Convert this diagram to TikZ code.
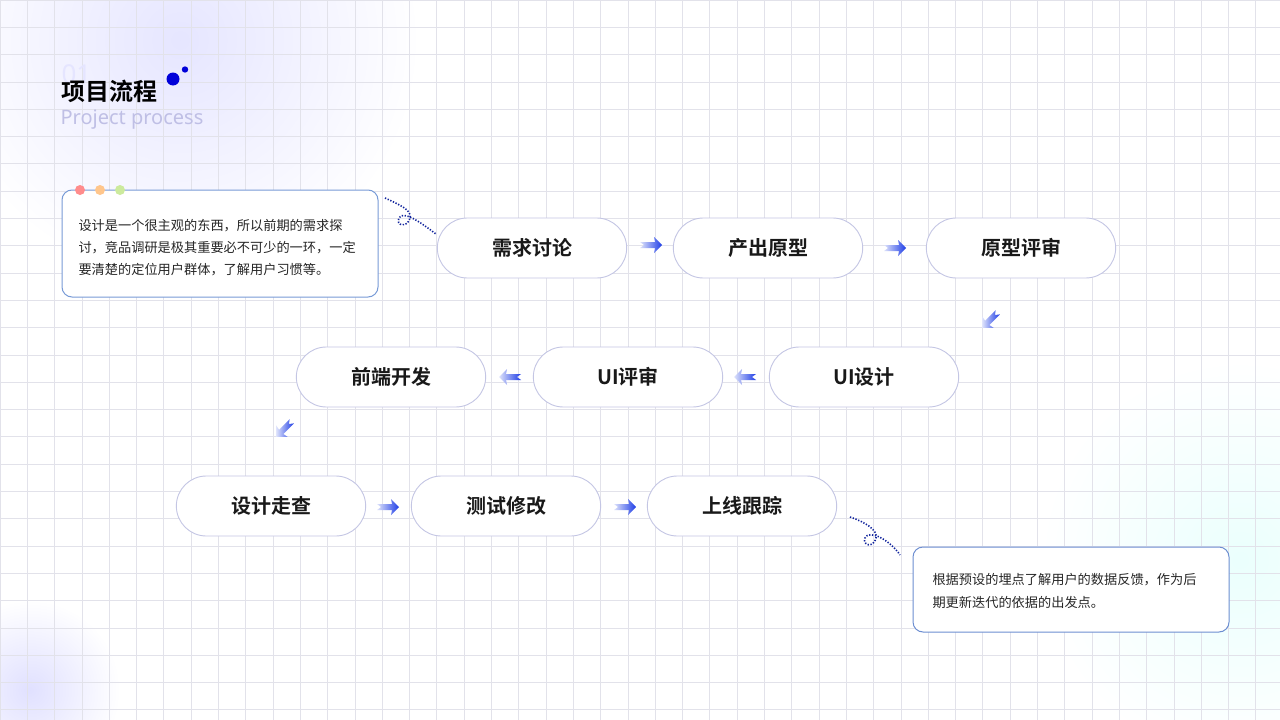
\documentclass[tikz,border=0pt]{standalone}
\usepackage{fontspec}
\setmainfont{Noto Sans CJK SC}
\newfontfamily\cjkb{Noto Sans CJK SC Bold}
\newfontfamily\cjkm{Noto Sans CJK SC Bold}
\newfontfamily\lat{Noto Sans}
\usetikzlibrary{shapes.misc,shadings,fadings,calc}
\definecolor{gridc}{HTML}{E2E2EA}
\definecolor{pillb}{HTML}{C4C6E4}
\definecolor{arrb}{HTML}{1F3EE6}
\definecolor{dotb}{HTML}{10239C}
\tikzset{
 x=1pt,y=-1pt,
 pill/.style={rounded rectangle, draw=pillb, line width=0.9pt, fill=white, minimum width=196pt, minimum height=60pt, font=\cjkm\fontsize{20}{20}\selectfont, text=black!90},
 note/.style={rounded corners=10pt, draw=#1, line width=1pt, fill=white},
 ntext/.style={font=\fontsize{13.2}{22}\selectfont, text=black!85, anchor=west},
 pics/arr/.style={code={
   \shade[left color=arrb!15, right color=arrb] (-11,-3) -- (4,-3) -- (3,-8) -- (11,0) -- (3,8) -- (4,3) -- (-11,3) -- (-7,0) -- cycle;}}
}
\begin{document}
\begin{tikzpicture}
\useasboundingbox (0,0) rectangle (1280,720);
\fill[white] (0,0) rectangle (1280,720);
\shade[inner color=blue!10, outer color=white] (180,40) circle (240);
\shade[inner color=blue!12, outer color=white] (30,690) circle (90);
\shade[inner color=green!10!cyan!8, outer color=white] (1240,560) circle (200);
\foreach \i in {0,...,47} {\draw[gridc, line width=0.7pt] (\i*27.3,0) -- (\i*27.3,720);}
\foreach \i in {0,...,27} {\draw[gridc, line width=0.7pt] (0,\i*27.3) -- (1280,\i*27.3);}
% title
\node[anchor=west, text=blue!10, font=\lat\fontsize{26}{26}\selectfont] (n01) at (58,74) {01};
\node[anchor=west, font=\cjkb\fontsize{24}{24}\selectfont] (title) at (58,91) {项目流程};
\node[anchor=west, text=blue!60!black!25, font=\lat\fontsize{20}{20}\selectfont] (sub) at (57,120) {Project process};
\fill[blue!85!black] (173,79) circle (6.5);
\fill[blue!85!black] (185,69.5) circle (3.2);
% notes
\node[note=cyan!45!blue!55, minimum width=316pt, minimum height=107pt] (note1) at (220,243.5) {};
\fill[red!45] (80,190) circle (5);
\fill[orange!45] (100,190) circle (5);
\fill[yellow!50!green!40] (120,190) circle (5);
\node[ntext] at (75,226) {设计是一个很主观的东西，所以前期的需求探};
\node[ntext] at (75,248) {讨，竞品调研是极其重要必不可少的一环，一定};
\node[ntext] at (75,270) {要清楚的定位用户群体，了解用户习惯等。};
\node[note=cyan!40!blue!60, minimum width=316pt, minimum height=85pt] (note2) at (1071,589.5) {};
\node[ntext] at (929,580) {根据预设的埋点了解用户的数据反馈，作为后};
\node[ntext] at (929,602) {期更新迭代的依据的出发点。};
% pills
\node[pill] (a1) at (532,248) {需求讨论};
\node[pill] (a2) at (768,248) {产出原型};
\node[pill] (a3) at (1021,248) {原型评审};
\node[pill] (b1) at (391,377) {前端开发};
\node[pill] (b2) at (628,377) {UI评审};
\node[pill] (b3) at (864,377) {UI设计};
\node[pill] (c1) at (271,506) {设计走查};
\node[pill] (c2) at (506,506) {测试修改};
\node[pill] (c3) at (742,506) {上线跟踪};
% arrows
\pic at (651,245) {arr};
\pic at (895,248) {arr};
\pic[rotate=-135] at (990,320) {arr};
\pic[rotate=180] at (510,377) {arr};
\pic[rotate=180] at (745,377) {arr};
\pic[rotate=-135] at (284,429) {arr};
\pic at (388,507) {arr};
\pic at (625,507) {arr};
% dotted squiggles
\coordinate (s1) at (385,198); \coordinate (e1) at (436,234);
\draw[dotb, line width=1.6pt, dash pattern=on 1.3pt off 1.6pt] (s1) .. controls (400,205) and (412,210) .. (410,218) .. controls (408,228) and (395,226) .. (399,218) .. controls (403,210) and (420,222) .. (e1);
\coordinate (s2) at (850,517); \coordinate (e2) at (900,555);
\draw[dotb, line width=1.6pt, dash pattern=on 1.3pt off 1.6pt] (s2) .. controls (865,522) and (878,530) .. (876,538) .. controls (874,548) and (862,546) .. (865,538) .. controls (869,529) and (890,540) .. (e2);
\end{tikzpicture}
\end{document}
